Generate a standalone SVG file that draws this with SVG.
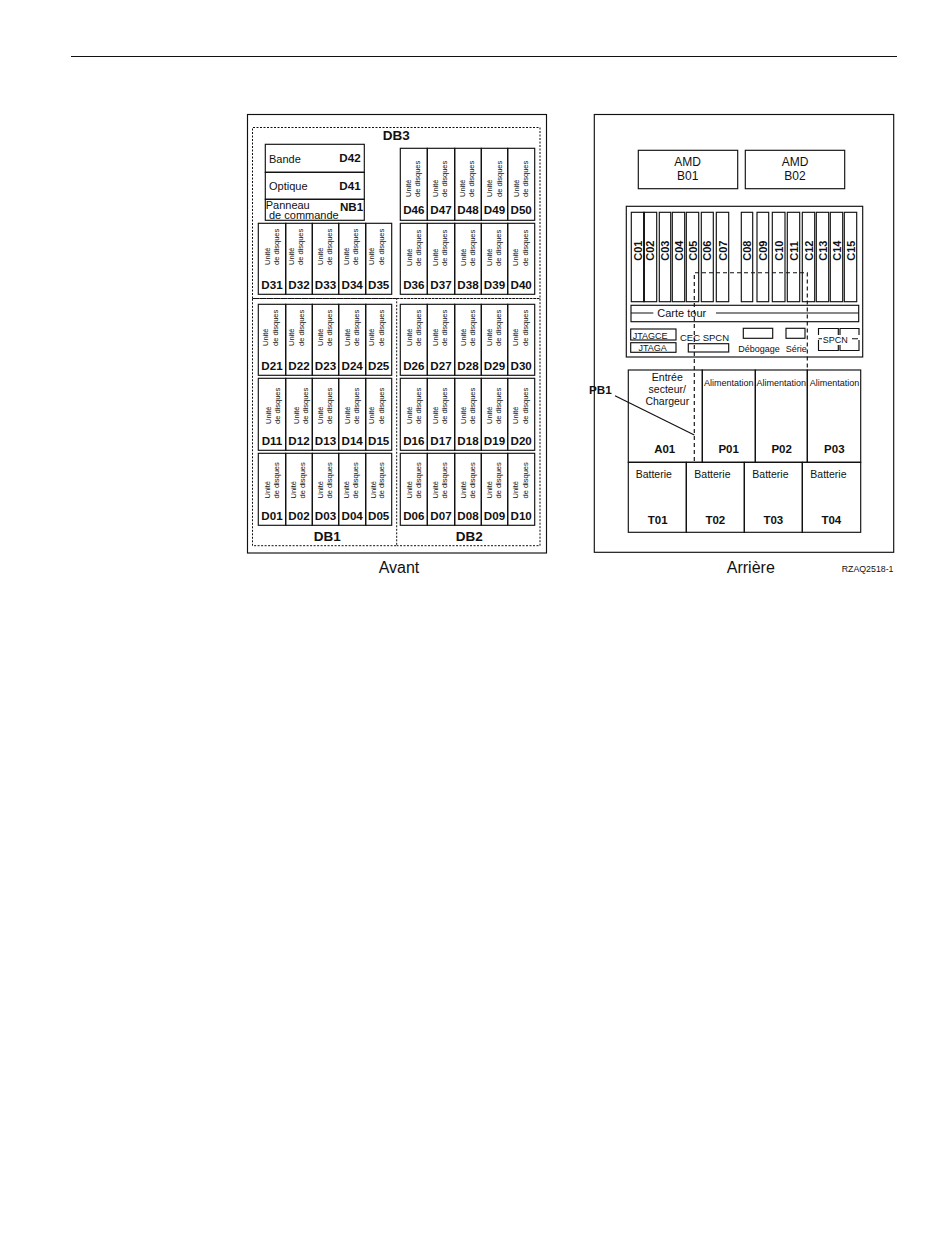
<svg xmlns="http://www.w3.org/2000/svg" width="950" height="1260" viewBox="0 0 950 1260">
<style>
text{font-family:"Liberation Sans",Arial,sans-serif;fill:#111}
rect{fill:none;stroke:#111;stroke-width:1.15}
line,path{fill:none;stroke:#111;stroke-width:1.15}
.dash{stroke-dasharray:2 1.5;stroke-width:1}
.dash2{stroke-dasharray:4 3}
.u{font-size:7.5px}
.d{font-size:11.6px;font-weight:bold;text-anchor:middle}
.b{font-weight:bold;text-anchor:middle}
.m{text-anchor:middle}
.c{font-size:11px;font-weight:bold}
</style>
<rect width="950" height="1260" style="fill:#fff;stroke:none"/>
<line x1="71" y1="56.5" x2="897" y2="56.5"/>
<g id="front">
<rect x="247.5" y="114.5" width="299" height="438.5"/>
<text class="m" x="399" y="572.5" font-size="16">Avant</text>
</g>
<g id="DB3"><path class="dash" d="M252.5 298.5V127.5H540V298.5Z"/><text class="b" x="396.3" y="140" font-size="13.5">DB3</text></g>
<g id="DB1"><path class="dash" d="M252.5 298.5H396.7V545.7H252.5Z"/><text class="b" x="327.3" y="540.7" font-size="13.5">DB1</text></g>
<g id="DB2"><path class="dash" d="M396.7 298.5H540V545.7H396.7"/><text class="b" x="469.3" y="540.7" font-size="13.5">DB2</text></g>
<g id="D42"><rect x="265.3" y="144.3" width="99" height="28"/><text x="269" y="162.8" font-size="11">Bande</text><text class="d" x="350" y="162.3">D42</text></g>
<g id="D41"><rect x="265.3" y="172.3" width="99" height="27"/><text x="269" y="190" font-size="11">Optique</text><text class="d" x="350" y="189.5">D41</text></g>
<g id="NB1"><rect x="265.3" y="199.3" width="99" height="21"/><text x="265.7" y="208.5" font-size="11">Panneau</text><text x="269" y="218.5" font-size="11">de commande</text><text class="d" x="351.5" y="211">NB1</text></g>

<g id="D46"><rect x="400.3" y="148.3" width="27" height="72"/><text class="u" x="410.7" y="197" transform="rotate(-90 410.7 197)">Unité</text><text class="u" x="420" y="197" transform="rotate(-90 420 197)">de disques</text><text class="d" x="413.8" y="214">D46</text></g>
<g id="D47"><rect x="427.3" y="148.3" width="27.4" height="72"/><text class="u" x="437.7" y="197" transform="rotate(-90 437.7 197)">Unité</text><text class="u" x="447" y="197" transform="rotate(-90 447 197)">de disques</text><text class="d" x="441" y="214">D47</text></g>
<g id="D48"><rect x="454.7" y="148.3" width="26.6" height="72"/><text class="u" x="465" y="197" transform="rotate(-90 465 197)">Unité</text><text class="u" x="474.4" y="197" transform="rotate(-90 474.4 197)">de disques</text><text class="d" x="468" y="214">D48</text></g>
<g id="D49"><rect x="481.3" y="148.3" width="26.4" height="72"/><text class="u" x="492" y="197" transform="rotate(-90 492 197)">Unité</text><text class="u" x="501.7" y="197" transform="rotate(-90 501.7 197)">de disques</text><text class="d" x="494.5" y="214">D49</text></g>
<g id="D50"><rect x="507.7" y="148.3" width="27" height="72"/><text class="u" x="518.7" y="197" transform="rotate(-90 518.7 197)">Unité</text><text class="u" x="527.7" y="197" transform="rotate(-90 527.7 197)">de disques</text><text class="d" x="521.2" y="214">D50</text></g>

<g id="D31"><rect x="258.3" y="223.3" width="27.4" height="71"/><text class="u" x="270" y="265" transform="rotate(-90 270 265)">Unité</text><text class="u" x="279.4" y="265" transform="rotate(-90 279.4 265)">de disques</text><text class="d" x="272" y="289">D31</text></g>
<g id="D32"><rect x="285.7" y="223.3" width="26.6" height="71"/><text class="u" x="293.7" y="265" transform="rotate(-90 293.7 265)">Unité</text><text class="u" x="303" y="265" transform="rotate(-90 303 265)">de disques</text><text class="d" x="299" y="289">D32</text></g>
<g id="D33"><rect x="312.3" y="223.3" width="26.4" height="71"/><text class="u" x="322.7" y="265" transform="rotate(-90 322.7 265)">Unité</text><text class="u" x="332" y="265" transform="rotate(-90 332 265)">de disques</text><text class="d" x="325.5" y="289">D33</text></g>
<g id="D34"><rect x="338.7" y="223.3" width="27" height="71"/><text class="u" x="348.7" y="265" transform="rotate(-90 348.7 265)">Unité</text><text class="u" x="357.7" y="265" transform="rotate(-90 357.7 265)">de disques</text><text class="d" x="352.2" y="289">D34</text></g>
<g id="D35"><rect x="365.7" y="223.3" width="26" height="71"/><text class="u" x="374.4" y="265" transform="rotate(-90 374.4 265)">Unité</text><text class="u" x="383.7" y="265" transform="rotate(-90 383.7 265)">de disques</text><text class="d" x="378.7" y="289">D35</text></g>

<g id="D36"><rect x="400.3" y="223.3" width="27" height="71"/><text class="u" x="411.7" y="266" transform="rotate(-90 411.7 266)">Unité</text><text class="u" x="421" y="266" transform="rotate(-90 421 266)">de disques</text><text class="d" x="413.8" y="289">D36</text></g>
<g id="D37"><rect x="427.3" y="223.3" width="27.4" height="71"/><text class="u" x="438.4" y="266" transform="rotate(-90 438.4 266)">Unité</text><text class="u" x="447" y="266" transform="rotate(-90 447 266)">de disques</text><text class="d" x="441" y="289">D37</text></g>
<g id="D38"><rect x="454.7" y="223.3" width="26.6" height="71"/><text class="u" x="466" y="266" transform="rotate(-90 466 266)">Unité</text><text class="u" x="475" y="266" transform="rotate(-90 475 266)">de disques</text><text class="d" x="468" y="289">D38</text></g>
<g id="D39"><rect x="481.3" y="223.3" width="26.4" height="71"/><text class="u" x="491.7" y="266" transform="rotate(-90 491.7 266)">Unité</text><text class="u" x="501" y="266" transform="rotate(-90 501 266)">de disques</text><text class="d" x="494.5" y="289">D39</text></g>
<g id="D40"><rect x="507.7" y="223.3" width="27" height="71"/><text class="u" x="518.4" y="266" transform="rotate(-90 518.4 266)">Unité</text><text class="u" x="527.7" y="266" transform="rotate(-90 527.7 266)">de disques</text><text class="d" x="521.2" y="289">D40</text></g>

<g id="D21"><rect x="258.3" y="304.3" width="27.4" height="71"/><text class="u" x="267.7" y="346" transform="rotate(-90 267.7 346)">Unité</text><text class="u" x="277.7" y="346" transform="rotate(-90 277.7 346)">de disques</text><text class="d" x="272" y="370">D21</text></g>
<g id="D22"><rect x="285.7" y="304.3" width="26.6" height="71"/><text class="u" x="294.4" y="346" transform="rotate(-90 294.4 346)">Unité</text><text class="u" x="304.4" y="346" transform="rotate(-90 304.4 346)">de disques</text><text class="d" x="299" y="370">D22</text></g>
<g id="D23"><rect x="312.3" y="304.3" width="26.4" height="71"/><text class="u" x="322.7" y="346" transform="rotate(-90 322.7 346)">Unité</text><text class="u" x="331.7" y="346" transform="rotate(-90 331.7 346)">de disques</text><text class="d" x="325.5" y="370">D23</text></g>
<g id="D24"><rect x="338.7" y="304.3" width="27" height="71"/><text class="u" x="350" y="346" transform="rotate(-90 350 346)">Unité</text><text class="u" x="359.4" y="346" transform="rotate(-90 359.4 346)">de disques</text><text class="d" x="352.2" y="370">D24</text></g>
<g id="D25"><rect x="365.7" y="304.3" width="26" height="71"/><text class="u" x="374.4" y="346" transform="rotate(-90 374.4 346)">Unité</text><text class="u" x="383.7" y="346" transform="rotate(-90 383.7 346)">de disques</text><text class="d" x="378.7" y="370">D25</text></g>

<g id="D26"><rect x="400.3" y="304.3" width="27" height="71"/><text class="u" x="411.7" y="346" transform="rotate(-90 411.7 346)">Unité</text><text class="u" x="421" y="346" transform="rotate(-90 421 346)">de disques</text><text class="d" x="413.8" y="370">D26</text></g>
<g id="D27"><rect x="427.3" y="304.3" width="27.4" height="71"/><text class="u" x="437.7" y="346" transform="rotate(-90 437.7 346)">Unité</text><text class="u" x="447" y="346" transform="rotate(-90 447 346)">de disques</text><text class="d" x="441" y="370">D27</text></g>
<g id="D28"><rect x="454.7" y="304.3" width="26.6" height="71"/><text class="u" x="466" y="346" transform="rotate(-90 466 346)">Unité</text><text class="u" x="475" y="346" transform="rotate(-90 475 346)">de disques</text><text class="d" x="468" y="370">D28</text></g>
<g id="D29"><rect x="481.3" y="304.3" width="26.4" height="71"/><text class="u" x="491.7" y="346" transform="rotate(-90 491.7 346)">Unité</text><text class="u" x="501" y="346" transform="rotate(-90 501 346)">de disques</text><text class="d" x="494.5" y="370">D29</text></g>
<g id="D30"><rect x="507.7" y="304.3" width="27" height="71"/><text class="u" x="518.4" y="346" transform="rotate(-90 518.4 346)">Unité</text><text class="u" x="527.7" y="346" transform="rotate(-90 527.7 346)">de disques</text><text class="d" x="521.2" y="370">D30</text></g>

<g id="D11"><rect x="258.3" y="378.3" width="27.4" height="72"/><text class="u" x="271" y="424" transform="rotate(-90 271 424)">Unité</text><text class="u" x="280" y="424" transform="rotate(-90 280 424)">de disques</text><text class="d" x="272" y="445">D11</text></g>
<g id="D12"><rect x="285.7" y="378.3" width="26.6" height="72"/><text class="u" x="298.7" y="424" transform="rotate(-90 298.7 424)">Unité</text><text class="u" x="307.7" y="424" transform="rotate(-90 307.7 424)">de disques</text><text class="d" x="299" y="445">D12</text></g>
<g id="D13"><rect x="312.3" y="378.3" width="26.4" height="72"/><text class="u" x="322.7" y="424" transform="rotate(-90 322.7 424)">Unité</text><text class="u" x="331.7" y="424" transform="rotate(-90 331.7 424)">de disques</text><text class="d" x="325.5" y="445">D13</text></g>
<g id="D14"><rect x="338.7" y="378.3" width="27" height="72"/><text class="u" x="350" y="424" transform="rotate(-90 350 424)">Unité</text><text class="u" x="359.4" y="424" transform="rotate(-90 359.4 424)">de disques</text><text class="d" x="352.2" y="445">D14</text></g>
<g id="D15"><rect x="365.7" y="378.3" width="26" height="72"/><text class="u" x="374.4" y="424" transform="rotate(-90 374.4 424)">Unité</text><text class="u" x="383.7" y="424" transform="rotate(-90 383.7 424)">de disques</text><text class="d" x="378.7" y="445">D15</text></g>

<g id="D16"><rect x="400.3" y="378.3" width="27" height="72"/><text class="u" x="411.7" y="424" transform="rotate(-90 411.7 424)">Unité</text><text class="u" x="421" y="424" transform="rotate(-90 421 424)">de disques</text><text class="d" x="413.8" y="445">D16</text></g>
<g id="D17"><rect x="427.3" y="378.3" width="27.4" height="72"/><text class="u" x="438.4" y="424" transform="rotate(-90 438.4 424)">Unité</text><text class="u" x="447" y="424" transform="rotate(-90 447 424)">de disques</text><text class="d" x="441" y="445">D17</text></g>
<g id="D18"><rect x="454.7" y="378.3" width="26.6" height="72"/><text class="u" x="466" y="424" transform="rotate(-90 466 424)">Unité</text><text class="u" x="475" y="424" transform="rotate(-90 475 424)">de disques</text><text class="d" x="468" y="445">D18</text></g>
<g id="D19"><rect x="481.3" y="378.3" width="26.4" height="72"/><text class="u" x="491.7" y="424" transform="rotate(-90 491.7 424)">Unité</text><text class="u" x="501" y="424" transform="rotate(-90 501 424)">de disques</text><text class="d" x="494.5" y="445">D19</text></g>
<g id="D20"><rect x="507.7" y="378.3" width="27" height="72"/><text class="u" x="518.4" y="424" transform="rotate(-90 518.4 424)">Unité</text><text class="u" x="527.7" y="424" transform="rotate(-90 527.7 424)">de disques</text><text class="d" x="521.2" y="445">D20</text></g>

<g id="D01"><rect x="258.3" y="453.3" width="27.4" height="72"/><text class="u" x="270" y="498.5" transform="rotate(-90 270 498.5)">Unité</text><text class="u" x="279.4" y="498.5" transform="rotate(-90 279.4 498.5)">de disques</text><text class="d" x="272" y="520">D01</text></g>
<g id="D02"><rect x="285.7" y="453.3" width="26.6" height="72"/><text class="u" x="296" y="498.5" transform="rotate(-90 296 498.5)">Unité</text><text class="u" x="305.4" y="498.5" transform="rotate(-90 305.4 498.5)">de disques</text><text class="d" x="299" y="520">D02</text></g>
<g id="D03"><rect x="312.3" y="453.3" width="26.4" height="72"/><text class="u" x="322.7" y="498.5" transform="rotate(-90 322.7 498.5)">Unité</text><text class="u" x="331.7" y="498.5" transform="rotate(-90 331.7 498.5)">de disques</text><text class="d" x="325.5" y="520">D03</text></g>
<g id="D04"><rect x="338.7" y="453.3" width="27" height="72"/><text class="u" x="348.7" y="498.5" transform="rotate(-90 348.7 498.5)">Unité</text><text class="u" x="357.7" y="498.5" transform="rotate(-90 357.7 498.5)">de disques</text><text class="d" x="352.2" y="520">D04</text></g>
<g id="D05"><rect x="365.7" y="453.3" width="26" height="72"/><text class="u" x="376" y="498.5" transform="rotate(-90 376 498.5)">Unité</text><text class="u" x="383.7" y="498.5" transform="rotate(-90 383.7 498.5)">de disques</text><text class="d" x="378.7" y="520">D05</text></g>

<g id="D06"><rect x="400.3" y="453.3" width="27" height="72"/><text class="u" x="411.7" y="498.5" transform="rotate(-90 411.7 498.5)">Unité</text><text class="u" x="421" y="498.5" transform="rotate(-90 421 498.5)">de disques</text><text class="d" x="413.8" y="520">D06</text></g>
<g id="D07"><rect x="427.3" y="453.3" width="27.4" height="72"/><text class="u" x="438.4" y="498.5" transform="rotate(-90 438.4 498.5)">Unité</text><text class="u" x="447" y="498.5" transform="rotate(-90 447 498.5)">de disques</text><text class="d" x="441" y="520">D07</text></g>
<g id="D08"><rect x="454.7" y="453.3" width="26.6" height="72"/><text class="u" x="466" y="498.5" transform="rotate(-90 466 498.5)">Unité</text><text class="u" x="475" y="498.5" transform="rotate(-90 475 498.5)">de disques</text><text class="d" x="468" y="520">D08</text></g>
<g id="D09"><rect x="481.3" y="453.3" width="26.4" height="72"/><text class="u" x="491.7" y="498.5" transform="rotate(-90 491.7 498.5)">Unité</text><text class="u" x="501" y="498.5" transform="rotate(-90 501 498.5)">de disques</text><text class="d" x="494.5" y="520">D09</text></g>
<g id="D10"><rect x="507.7" y="453.3" width="27" height="72"/><text class="u" x="518.4" y="498.5" transform="rotate(-90 518.4 498.5)">Unité</text><text class="u" x="527.7" y="498.5" transform="rotate(-90 527.7 498.5)">de disques</text><text class="d" x="521.2" y="520">D10</text></g>

<g id="rear">
<rect x="594.3" y="114.5" width="299.4" height="437.8"/>
<text class="m" x="750.8" y="572.5" font-size="16">Arrière</text>
<text x="841.7" y="571.7" font-size="8.8">RZAQ2518-1</text>
</g>
<g id="B01"><rect x="638.3" y="150.3" width="99.4" height="38.4"/><text class="m" x="687.7" y="166" font-size="12">AMD</text><text class="m" x="687.7" y="180" font-size="12">B01</text></g>
<g id="B02"><rect x="745.3" y="150.3" width="99.4" height="38.4"/><text class="m" x="795" y="166" font-size="12">AMD</text><text class="m" x="795" y="180" font-size="12">B02</text></g>
<g id="panel"><rect x="626.3" y="206.3" width="236.4" height="150.7"/></g>
<g id="C01"><rect x="631.3" y="212.3" width="12.7" height="89.4"/><text class="c" transform="translate(641.7 260.7) rotate(-90)">C01</text></g>
<g id="C02"><rect x="644" y="212.3" width="12.7" height="89.4"/><text class="c" transform="translate(654.4 260.7) rotate(-90)">C02</text></g>
<g id="C03"><rect x="659.3" y="212.3" width="11.4" height="89.4"/><text class="c" transform="translate(669 260.7) rotate(-90)">C03</text></g>
<g id="C04"><rect x="672.3" y="212.3" width="12.4" height="89.4"/><text class="c" transform="translate(682.5 260.7) rotate(-90)">C04</text></g>
<g id="C05"><rect x="686.3" y="212.3" width="12.4" height="89.4"/><text class="c" transform="translate(696.5 260.7) rotate(-90)">C05</text></g>
<g id="C06"><rect x="701.3" y="212.3" width="12" height="89.4"/><text class="c" transform="translate(711.3 260.7) rotate(-90)">C06</text></g>
<g id="C07"><rect x="716.3" y="212.3" width="12.4" height="89.4"/><text class="c" transform="translate(726.5 260.7) rotate(-90)">C07</text></g>
<g id="C08"><rect x="741.3" y="212.3" width="11.4" height="89.4"/><text class="c" transform="translate(751 260.7) rotate(-90)">C08</text></g>
<g id="C09"><rect x="757" y="212.3" width="11.7" height="89.4"/><text class="c" transform="translate(766.8 260.7) rotate(-90)">C09</text></g>
<g id="C10"><rect x="772.3" y="212.3" width="12.7" height="89.4"/><text class="c" transform="translate(782.7 260.7) rotate(-90)">C10</text></g>
<g id="C11"><rect x="787.3" y="212.3" width="12.4" height="89.4"/><text class="c" transform="translate(797.5 260.7) rotate(-90)">C11</text></g>
<g id="C12"><rect x="802.3" y="212.3" width="12.4" height="89.4"/><text class="c" transform="translate(812.5 260.7) rotate(-90)">C12</text></g>
<g id="C13"><rect x="816.3" y="212.3" width="12.4" height="89.4"/><text class="c" transform="translate(826.5 260.7) rotate(-90)">C13</text></g>
<g id="C14"><rect x="830.3" y="212.3" width="12.4" height="89.4"/><text class="c" transform="translate(840.5 260.7) rotate(-90)">C14</text></g>
<g id="C15"><rect x="844.3" y="212.3" width="12.4" height="89.4"/><text class="c" transform="translate(854.5 260.7) rotate(-90)">C15</text></g>
<g id="carte"><rect x="631" y="305.3" width="227.7" height="16.4"/><path d="M631 313H653.3M716 313H858.7"/><text x="657.3" y="316.5" font-size="11">Carte tour</text></g>
<g id="JTAGCE"><rect x="630.7" y="329" width="45.3" height="11"/><text x="632.7" y="338.5" font-size="9">JTAGCE</text></g>
<g id="JTAGA"><rect x="630.7" y="342.7" width="45.3" height="9.6"/><text class="m" x="652.7" y="351" font-size="9">JTAGA</text></g>
<g id="CEC"><rect x="688.3" y="343.7" width="40.4" height="8.3"/><text x="680" y="341" font-size="9.5">CEC SPCN</text></g>
<g id="debogage"><rect x="743.3" y="328.3" width="29.4" height="10"/><text x="738.3" y="351.7" font-size="9">Débogage</text></g>
<g id="serie"><rect x="786" y="328.3" width="19" height="10"/><text x="785.7" y="351.7" font-size="9">Série</text></g>
<g id="SPCN"><path d="M818.5 335V328.5H838.3V335M838.3 345V350.5H818.5V340M818.5 338.7H822M840 335V328.5H859V335M859 340V350.5H840V345M852 338.7H858"/><text x="822.7" y="342.7" font-size="9">SPCN</text></g>
<g id="A01"><rect x="628.3" y="370" width="74" height="92.3"/><text class="m" x="667.3" y="380.5" font-size="10.5">Entrée</text><text class="m" x="667.3" y="393.3" font-size="10.5">secteur/</text><text class="m" x="667.3" y="405" font-size="10.5">Chargeur</text><text class="b" x="664.7" y="453.3" font-size="11.5">A01</text></g>
<g id="P01"><rect x="702.3" y="370" width="53" height="92.3"/><text class="m" x="728.7" y="385.7" font-size="9">Alimentation</text><text class="b" x="728.7" y="453.3" font-size="11.5">P01</text></g>
<g id="P02"><rect x="755.3" y="370" width="52" height="92.3"/><text class="m" x="781.3" y="385.7" font-size="9">Alimentation</text><text class="b" x="781.7" y="453.3" font-size="11.5">P02</text></g>
<g id="P03"><rect x="807.3" y="370" width="53.4" height="92.3"/><text class="m" x="834.5" y="385.7" font-size="9">Alimentation</text><text class="b" x="834.3" y="453.3" font-size="11.5">P03</text></g>
<g id="T01"><rect x="628.3" y="462.3" width="58" height="70"/><text x="635.7" y="477.7" font-size="10.5">Batterie</text><text class="b" x="657.7" y="523.7" font-size="11.5">T01</text></g>
<g id="T02"><rect x="686.3" y="462.3" width="58" height="70"/><text x="694.3" y="477.7" font-size="10.5">Batterie</text><text class="b" x="715.3" y="523.7" font-size="11.5">T02</text></g>
<g id="T03"><rect x="744.3" y="462.3" width="58" height="70"/><text x="752.3" y="477.7" font-size="10.5">Batterie</text><text class="b" x="773.3" y="523.7" font-size="11.5">T03</text></g>
<g id="T04"><rect x="802.3" y="462.3" width="58.4" height="70"/><text x="810.3" y="477.7" font-size="10.5">Batterie</text><text class="b" x="831.3" y="523.7" font-size="11.5">T04</text></g>
<g id="PB1"><text x="589" y="394.3" font-size="11.7" font-weight="bold">PB1</text></g>
<g id="connectors">
<path class="dash2" d="M694.3 461V272.7H807.3V370"/>
<line x1="615" y1="395.7" x2="694.3" y2="435"/>
<line x1="644" y1="212.3" x2="644" y2="301.7" style="stroke-width:1.6"/>
</g>
</svg>
